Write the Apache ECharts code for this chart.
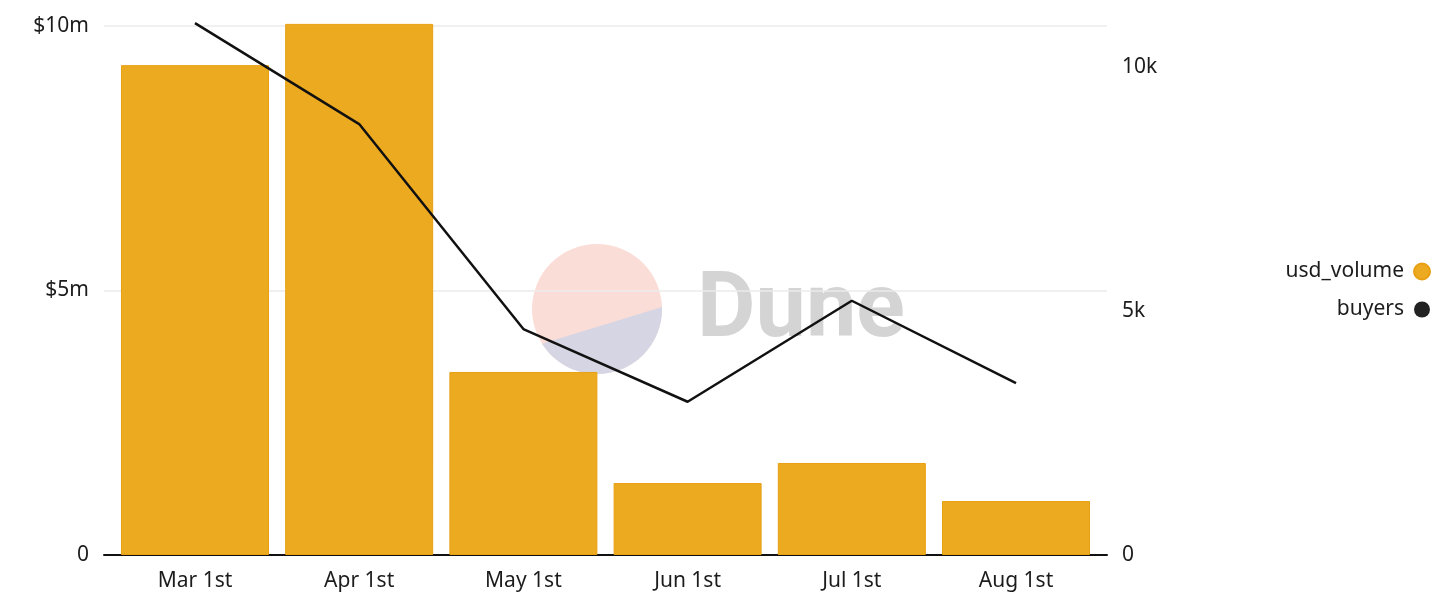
<!DOCTYPE html>
<html>
<head>
<meta charset="utf-8">
<script src="https://cdn.jsdelivr.net/npm/echarts@6/dist/echarts.min.js"></script>
<style>
html,body{margin:0;padding:0;background:#fff;}
#chart{width:1456px;height:603px;}
</style>
</head>
<body>
<div id="chart"></div>
<script>
const categories = ['Mar 1st', 'Apr 1st', 'May 1st', 'Jun 1st', 'Jul 1st', 'Aug 1st'];
const usdVolume = [9.26e6, 10.04e6, 3.46e6, 1.36e6, 1.74e6, 1.02e6];
const buyers = [10900, 8830, 4630, 3140, 5210, 3520];
const categoryIndex = [0, 1, 2, 3, 4, 5];

const FONT = '"Noto Sans", "Open Sans", sans-serif';
const TXT = '#1c1c1c';

// watermark circle segment (decoration only)
const segPts = [];
for (let k = 0; k <= 60; k++) {
  const a = (-1.8 + (149.6 * k) / 60) * Math.PI / 180;
  segPts.push([597 + 65 * Math.cos(a), 309 + 65 * Math.sin(a)]);
}

const chart = echarts.init(document.getElementById('chart'), null, {renderer: 'canvas'});

chart.setOption({
  animation: false,
  backgroundColor: '#ffffff',
  textStyle: {fontFamily: FONT},
  grid: {left: 104, right: 349, top: 26, bottom: 48, containLabel: false},
  legend: {
    orient: 'vertical',
    right: 20,
    top: 256,
    align: 'right',
    itemWidth: 16,
    itemHeight: 16,
    itemGap: 17,
    icon: 'circle',
    textStyle: {fontFamily: FONT, fontSize: 21, color: TXT, padding: [0, 5, 0, 0]},
    data: ['usd_volume', 'buyers']
  },
  graphic: [
    {type: 'circle', z: 0, shape: {cx: 597, cy: 309, r: 65}, style: {fill: '#FBDDD7'}, silent: true},
    {type: 'polygon', z: 0, shape: {points: segPts}, style: {fill: '#D5D5E4'}, silent: true},
    {type: 'text', z: 0, x: 697, y: 268, style: {text: 'Dune', font: 'bold 90px Roboto, sans-serif', fill: '#D4D4D4'}, silent: true}
  ],
  xAxis: {
    type: 'value',
    min: -0.554,
    max: 5.554,
    axisLine: {show: true, lineStyle: {color: '#111111', width: 2}},
    axisTick: {show: false},
    splitLine: {show: false},
    axisLabel: {
      customValues: categoryIndex,
      formatter: v => categories[Math.round(v)],
      fontFamily: FONT, fontSize: 21, color: TXT, margin: 16
    }
  },
  yAxis: [
    {
      type: 'value',
      min: 0, max: 10e6, interval: 5e6,
      axisLine: {show: false},
      axisTick: {show: false},
      splitLine: {show: true, lineStyle: {color: '#ebebeb', width: 1.5}},
      axisLabel: {
        formatter: v => v === 0 ? '0' : '$' + (v / 1e6) + 'm',
        fontFamily: FONT, fontSize: 21, color: TXT, margin: 15
      }
    },
    {
      type: 'value',
      min: 0, max: 10840, interval: 5000,
      axisLine: {show: false},
      axisTick: {show: false},
      splitLine: {show: false},
      axisLabel: {
        showMaxLabel: false,
        formatter: v => v === 0 ? '0' : (v / 1000) + 'k',
        fontFamily: FONT, fontSize: 21, color: TXT, margin: 15
      }
    }
  ],
  series: [
    {
      name: 'usd_volume',
      type: 'bar',
      yAxisIndex: 0,
      barWidth: 148,
      clip: false,
      z: 2,
      itemStyle: {color: '#ECAA20', borderColor: '#E8A012', borderWidth: 1},
      data: categoryIndex.map((i) => [i, usdVolume[i]])
    },
    {
      name: 'buyers',
      type: 'line',
      yAxisIndex: 1,
      clip: false,
      z: 3,
      showSymbol: false,
      symbol: 'circle',
      color: '#222222',
      lineStyle: {color: '#111111', width: 2.5},
      data: categoryIndex.map((i) => [i, buyers[i]])
    }
  ]
});
</script>
</body>
</html>
